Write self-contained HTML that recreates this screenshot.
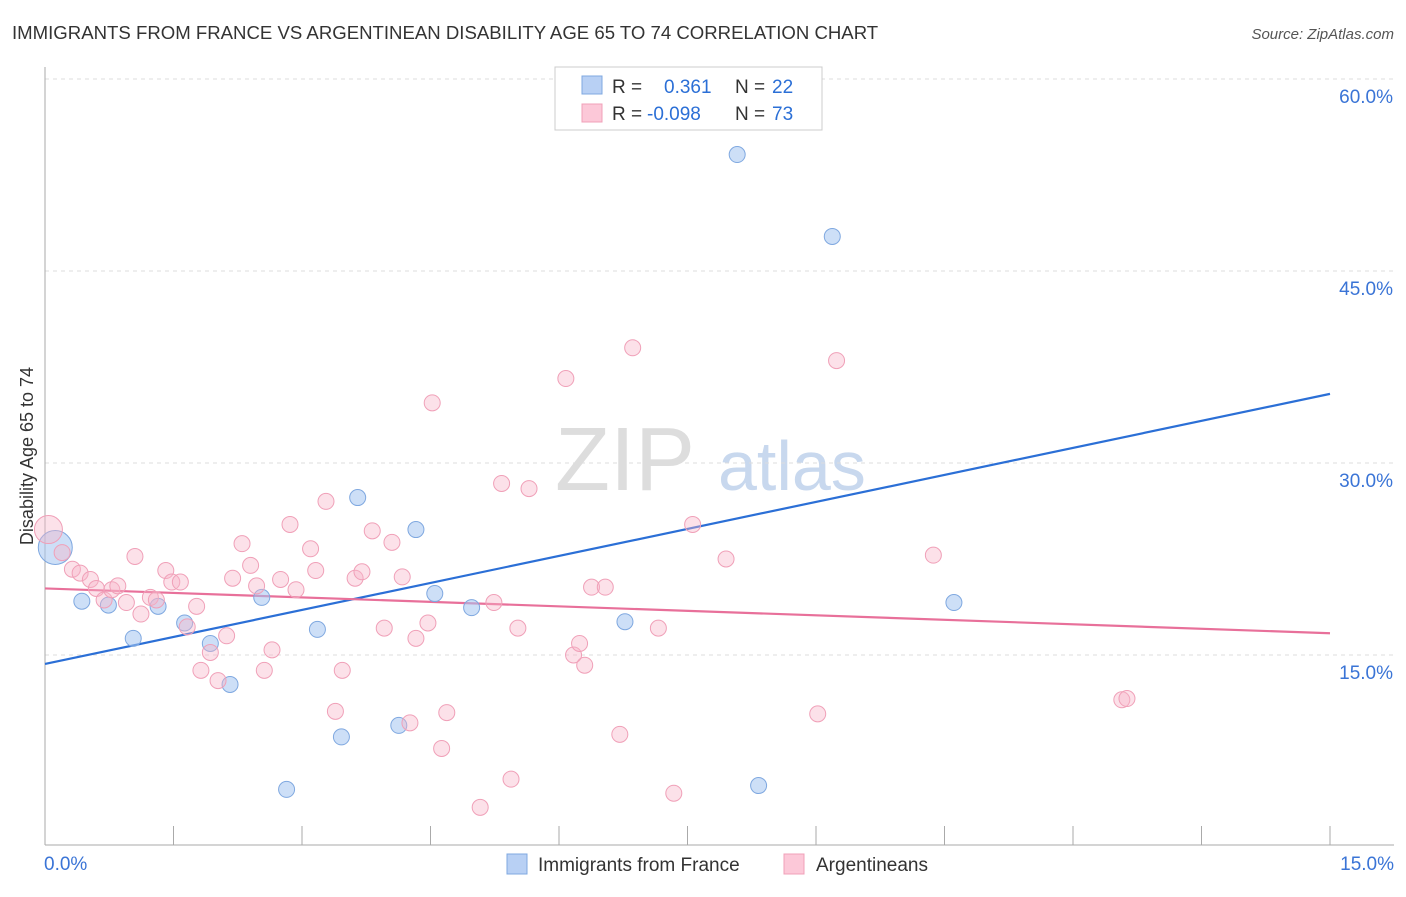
<!DOCTYPE html>
<html><head><meta charset="utf-8">
<style>
body{margin:0;background:#fff;font-family:"Liberation Sans",sans-serif;}
svg text{font-family:"Liberation Sans",sans-serif;}
</style></head>
<body>
<svg id="chart" width="1406" height="892" xmlns="http://www.w3.org/2000/svg">
<text x="12" y="39" font-size="18.6" fill="#333">IMMIGRANTS FROM FRANCE VS ARGENTINEAN DISABILITY AGE 65 TO 74 CORRELATION CHART</text>
<text x="1394" y="39" font-size="15" fill="#555" text-anchor="end" font-style="italic">Source: ZipAtlas.com</text>
<text x="0" y="0" transform="translate(33,456) rotate(-90)" font-size="18" fill="#333" text-anchor="middle">Disability Age 65 to 74</text>
<g>
<text x="555" y="490" font-size="90" fill="#ddd" font-family="Liberation Serif">ZIP</text>
<text x="718" y="490" font-size="70" fill="#c8d8ee">atlas</text>
</g>
<g id="grid"></g><g id="axes"></g><g id="lines"></g><g id="points"></g>
<g>
<rect x="555" y="67" width="267" height="63" fill="#fff" stroke="#ccc"/>
<rect x="582" y="76" width="20" height="18" fill="#b8d0f4" stroke="#7fa8e0"/>
<rect x="582" y="104" width="20" height="18" fill="#fcc8d8" stroke="#f0a0b8"/>
<text x="612" y="93" font-size="19" fill="#333">R = <tspan fill="#2b6fd6" x="664">0.361</tspan><tspan fill="#333" x="735">N =</tspan><tspan fill="#2b6fd6" x="772">22</tspan></text>
<text x="612" y="120" font-size="19" fill="#333">R = <tspan fill="#2b6fd6" x="647">-0.098</tspan><tspan fill="#333" x="735">N =</tspan><tspan fill="#2b6fd6" x="772">73</tspan></text>
</g>
<g>
<rect x="507" y="854" width="20" height="20" fill="#b8d0f4" stroke="#7fa8e0"/>
<text x="538" y="871" font-size="19" fill="#333">Immigrants from France</text>
<rect x="784" y="854" width="20" height="20" fill="#fcc8d8" stroke="#f0a0b8"/>
<text x="816" y="871" font-size="19" fill="#333">Argentineans</text>
</g>
</svg>
<script>
const yTicks=[15,30,45,60];
const yTickLabels=["15.0%","30.0%","45.0%","60.0%"];
const xTicks=[0,1.5,3,4.5,6,7.5,9,10.5,12,13.5,15];
const blueX=[0.12,0.43,0.74,1.03,1.32,1.63,1.93,2.16,2.53,2.82,3.18,3.46,3.65,4.13,4.33,4.55,4.98,6.77,8.08,8.33,9.19,10.61];
const blueY=[23.4,19.2,18.9,16.3,18.8,17.5,15.9,12.7,19.5,4.5,17.0,8.6,27.3,9.5,24.8,19.8,18.7,17.6,54.1,4.8,47.7,19.1];
const pinkX=[0.04,0.20,0.32,0.41,0.53,0.60,0.69,0.78,0.85,0.95,1.05,1.12,1.23,1.30,1.41,1.48,1.58,1.66,1.77,1.82,1.93,2.02,2.12,2.19,2.30,2.40,2.47,2.56,2.65,2.75,2.86,2.93,3.10,3.16,3.28,3.39,3.47,3.62,3.70,3.82,3.96,4.05,4.17,4.26,4.33,4.47,4.52,4.63,4.69,5.08,5.24,5.33,5.44,5.52,5.65,6.08,6.17,6.24,6.30,6.38,6.54,6.71,6.86,7.16,7.34,7.56,7.95,9.02,9.24,10.37,12.57,12.63];
const pinkY=[24.8,23.0,21.7,21.4,20.9,20.2,19.3,20.1,20.4,19.1,22.7,18.2,19.5,19.3,21.6,20.7,20.7,17.2,18.8,13.8,15.2,13.0,16.5,21.0,23.7,22.0,20.4,13.8,15.4,20.9,25.2,20.1,23.3,21.6,27.0,10.6,13.8,21.0,21.5,24.7,17.1,23.8,21.1,9.7,16.3,17.5,34.7,7.7,10.5,3.1,19.1,28.4,5.3,17.1,28.0,36.6,15.0,15.9,14.2,20.3,20.3,8.8,39.0,17.1,4.2,25.2,22.5,10.4,38.0,22.8,11.5,11.6];
const blueTrend=[14.3,35.4];
const pinkTrend=[20.2,16.7];
const NS="http://www.w3.org/2000/svg";
const sx=v=>45+v*(1285/15);
const sy=v=>847-v*12.8;
function mk(tag,attrs,parent){const e=document.createElementNS(NS,tag);for(const k in attrs)e.setAttribute(k,attrs[k]);document.getElementById(parent).appendChild(e);return e;}
yTicks.forEach((t,i)=>{
 const g=mk('line',{x1:45,x2:1394,y1:sy(t),y2:sy(t),stroke:'#ddd','stroke-dasharray':'4,4'},'grid');
 
 
 const l=mk('text',{x:1393,y:sy(t)+24,'font-size':19,fill:'#3a74d6','text-anchor':'end'},'axes');
 l.textContent=yTickLabels[i];
 
 
});
const ax=mk('line',{x1:45,x2:1394,y1:845,y2:845,stroke:'#aaa'},'axes');


const ay=mk('line',{x1:45,x2:45,y1:67,y2:845,stroke:'#aaa'},'axes');


xTicks.forEach(t=>{
 const e=mk('line',{x1:sx(t),x2:sx(t),y1:826,y2:845,stroke:'#aaa'},'axes');
 
 
});
const xl0=mk('text',{x:44,y:870,'font-size':19,fill:'#3a74d6'},'axes');xl0.textContent="0.0%";


const xl1=mk('text',{x:1394,y:870,'font-size':19,fill:'#3a74d6','text-anchor':'end'},'axes');xl1.textContent="15.0%";


blueX.forEach((x,i)=>{
 const c=mk('circle',{cx:sx(x),cy:sy(blueY[i]),r:i===0?17:8,fill:'rgba(164,196,240,0.55)',stroke:'#7fa8e0','stroke-width':1},'points');
 
 
});
pinkX.forEach((x,i)=>{
 const c=mk('circle',{cx:sx(x),cy:sy(pinkY[i]),r:i===0?14:8,fill:'rgba(248,180,200,0.4)',stroke:'#f0a0b8','stroke-width':1},'points');
 
 
});
const bl=mk('line',{x1:sx(0),x2:sx(15),y1:sy(blueTrend[0]),y2:sy(blueTrend[1]),stroke:'#2b6fd6','stroke-width':2.2},'lines');


const pl=mk('line',{x1:sx(0),x2:sx(15),y1:sy(pinkTrend[0]),y2:sy(pinkTrend[1]),stroke:'#e8709a','stroke-width':2.2},'lines');


</script>
</body></html>
